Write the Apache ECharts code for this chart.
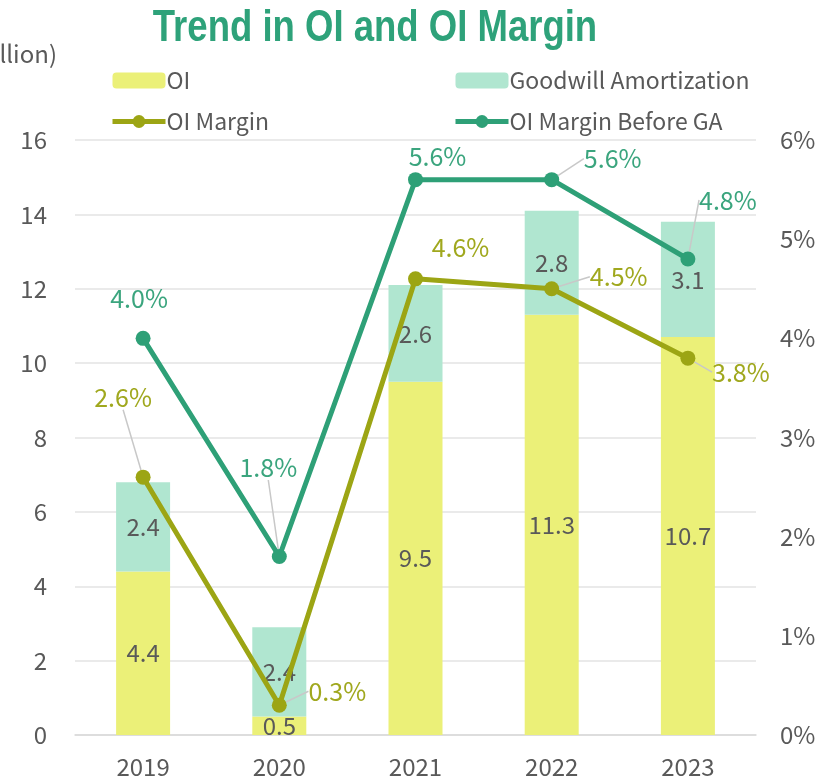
<!DOCTYPE html>
<html>
<head>
<meta charset="utf-8">
<script src="https://cdn.jsdelivr.net/npm/echarts@6/dist/echarts.min.js"></script>
<style>
html, body { margin: 0; padding: 0; background: #fff; }
#main { width: 830px; height: 781px; }
</style>
</head>
<body>
<div id="main"></div>
<script>
var years = ['2019', '2020', '2021', '2022', '2023'];
var oi = [4.4, 0.5, 9.5, 11.3, 10.7];
var ga = [2.4, 2.4, 2.6, 2.8, 3.1];
var oiMargin = [2.6, 0.3, 4.6, 4.5, 3.8];
var marginBeforeGA = [4.0, 1.8, 5.6, 5.6, 4.8];

// label offsets from each point (px), and whether a leader line is drawn
var marginLabelPos = [[-20, -80, true], [58, -14, true], [45, -31, false], [67, -12, true], [53, 14, true]];
var beforeGALabelPos = [[-4, -40, false], [-11, -89, true], [22, -23, false], [61, -21, true], [40, -59, true]];

var FONT = '"Noto Sans CJK JP", "Noto Sans", sans-serif';
var GREY = '#595959';

function lineData(values, pos) {
    return values.map(function (v, i) {
        return { value: v, labelLine: { show: pos[i][2] } };
    });
}

function placeLabel(pos) {
    return function (p) {
        var o = pos[p.dataIndex];
        return {
            x: p.rect.x + p.rect.width / 2 + o[0],
            y: p.rect.y + p.rect.height / 2 + o[1],
            align: 'center',
            verticalAlign: 'middle'
        };
    };
}

function pct(p) {
    return p.value.toFixed(1) + '%';
}

var legendText = { fontSize: 23, color: GREY, fontFamily: FONT, padding: [0, 0, 0, -4] };

var myChart = echarts.init(document.getElementById('main'));

myChart.setOption({
    textStyle: { fontFamily: FONT },
    graphic: [{
        type: 'text',
        x: 375,
        y: 29,
        scaleX: 0.83,
        style: {
            text: 'Trend in OI and OI Margin',
            font: 'bold 44px "Liberation Sans", sans-serif',
            fill: '#2EA27A',
            textAlign: 'center',
            textVerticalAlign: 'middle'
        }
    }, {
        type: 'text',
        right: 773,
        top: 42,
        style: { text: '(Billion)', font: '24px ' + FONT, fill: GREY }
    }],
    legend: [{
        left: 105,
        top: 64,
        orient: 'vertical',
        itemWidth: 53,
        itemHeight: 16,
        itemGap: 18,
        lineStyle: { width: 5 },
        textStyle: legendText,
        data: ['OI', 'OI Margin']
    }, {
        left: 448,
        top: 64,
        orient: 'vertical',
        itemWidth: 53,
        itemHeight: 16,
        itemGap: 18,
        lineStyle: { width: 5 },
        textStyle: legendText,
        data: ['Goodwill Amortization', 'OI Margin Before GA']
    }],
    grid: { left: 75, right: 74, top: 140, bottom: 46 },
    xAxis: {
        type: 'category',
        data: years,
        axisTick: { show: false },
        axisLine: { lineStyle: { color: '#d9d9d9', width: 1.5 } },
        axisLabel: { fontSize: 24, color: GREY, margin: 20 }
    },
    yAxis: [{
        type: 'value',
        min: 0,
        max: 16,
        interval: 2,
        axisLabel: { fontSize: 24, color: GREY, margin: 28 },
        splitLine: { lineStyle: { color: '#e3e3e3', width: 1.5 } }
    }, {
        type: 'value',
        min: 0,
        max: 6,
        interval: 1,
        axisLabel: { fontSize: 24, color: GREY, margin: 24, formatter: '{value}%' },
        splitLine: { show: false }
    }],
    series: [{
        name: 'OI',
        type: 'bar',
        stack: 'total',
        barWidth: 54,
        data: oi,
        itemStyle: { color: '#EBF078' },
        label: { show: true, position: 'inside', fontSize: 24, color: GREY }
    }, {
        name: 'Goodwill Amortization',
        type: 'bar',
        stack: 'total',
        barWidth: 54,
        data: ga,
        itemStyle: { color: '#B0E6D0' },
        label: { show: true, position: 'inside', fontSize: 24, color: GREY }
    }, {
        name: 'OI Margin',
        type: 'line',
        yAxisIndex: 1,
        data: lineData(oiMargin, marginLabelPos),
        symbol: 'circle',
        symbolSize: 15,
        lineStyle: { width: 5, color: '#9CA514' },
        itemStyle: { color: '#9CA514' },
        label: { show: true, formatter: pct, fontSize: 25, color: '#A0A81E' },
        labelLine: { show: true, lineStyle: { color: '#c8c8c8', width: 1.5 } },
        labelLayout: placeLabel(marginLabelPos),
        z: 5
    }, {
        name: 'OI Margin Before GA',
        type: 'line',
        yAxisIndex: 1,
        data: lineData(marginBeforeGA, beforeGALabelPos),
        symbol: 'circle',
        symbolSize: 15,
        lineStyle: { width: 5, color: '#2EA077' },
        itemStyle: { color: '#2EA077' },
        label: { show: true, formatter: pct, fontSize: 25, color: '#3BA57E' },
        labelLine: { show: true, lineStyle: { color: '#c8c8c8', width: 1.5 } },
        labelLayout: placeLabel(beforeGALabelPos),
        z: 5
    }]
});
</script>
</body>
</html>
